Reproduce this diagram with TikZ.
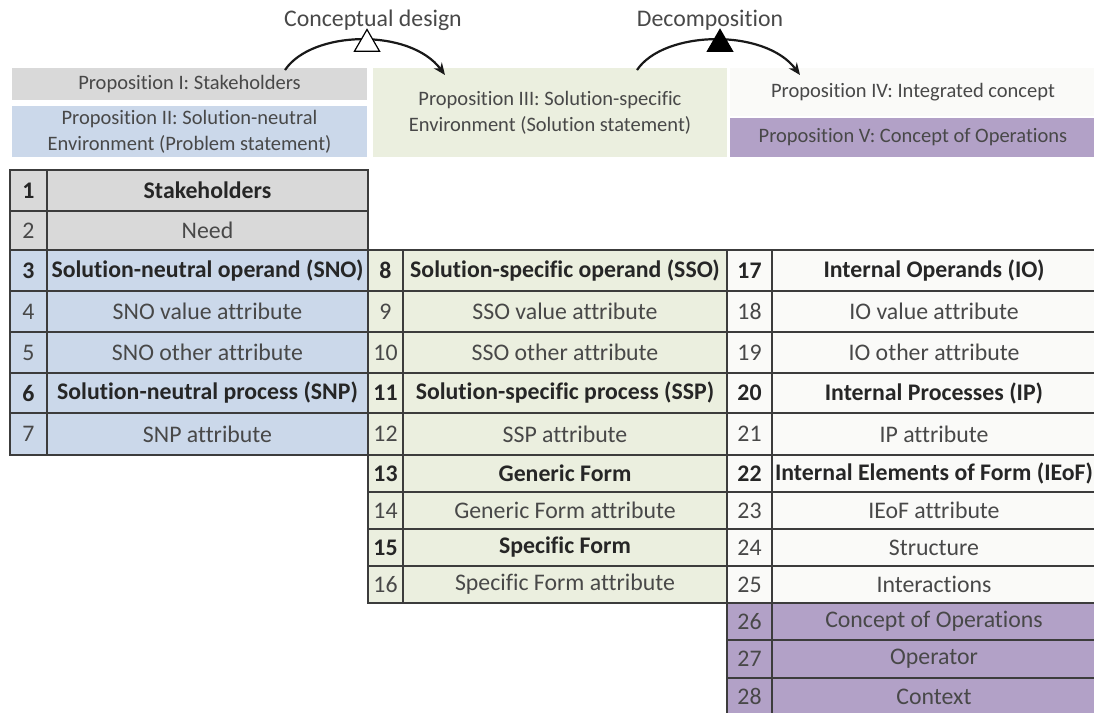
\documentclass[tikz,border=0pt]{standalone}
\usepackage{fontspec}
\setmainfont{Carlito}[Ligatures=NoCommon]
\usetikzlibrary{arrows.meta,shapes.geometric}
\definecolor{gg}{RGB}{217,217,217}
\definecolor{bb}{RGB}{203,216,234}
\definecolor{ee}{RGB}{235,239,223}
\definecolor{ww}{RGB}{250,250,248}
\definecolor{pp}{RGB}{178,161,199}
\definecolor{kk}{RGB}{60,60,60}
\definecolor{tt}{RGB}{72,72,72}
\definecolor{dd}{RGB}{38,38,38}

\begin{document}
\begin{tikzpicture}[x=0.5pt, y=-0.5pt,
every node/.style={inner sep=0pt},
cell/.style={draw=kk, line width=0.75pt, text=tt, font=\fontsize{11.9}{14}\selectfont},
strong/.style={text=dd, font=\fontsize{11.9}{14}\selectfont\bfseries},
lnum/.style={cell, minimum width=18.5pt}, ltxt/.style={cell, minimum width=160.5pt},
mnum/.style={cell, minimum width=17.5pt}, mtxt/.style={cell, minimum width=162pt},
rnum/.style={cell, minimum width=22.5pt}, rtxt/.style={cell, minimum width=162pt},
hdbox/.style={text=tt, align=center, font=\fontsize{10.25}{13}\selectfont},
ttl/.style={text=tt, font=\fontsize{11.9}{14}\selectfont},
tri/.style={regular polygon, regular polygon sides=3, draw=black, line width=0.6pt, minimum size=14.5pt},
arc/.style={line width=1.1pt, color=black!90, -{Stealth[length=6pt, width=5pt]}}]
\useasboundingbox (0,0) rectangle (1094,713);
% proposition headers
\node (p1) [hdbox, fill=gg, minimum width=177.5pt, minimum height=16pt] at (189.5,84) {Proposition I: Stakeholders};
\node (p2) [hdbox, fill=bb, minimum width=177.5pt, minimum height=25.5pt] at (189.5,131.5) {Proposition II: Solution-neutral\\Environment (Problem statement)};
\node (p3) [hdbox, fill=ee, minimum width=177pt, minimum height=44.5pt] at (550,112.5) {Proposition III: Solution-specific\\Environment (Solution statement)};
\node (p4) [hdbox, fill=ww, minimum width=183pt, minimum height=24pt] at (913,92) {Proposition IV: Integrated concept};
\node (p5) [hdbox, fill=pp, minimum width=183pt, minimum height=19.5pt] at (913,137.5) {Proposition V: Concept of Operations};
% left table
\node (n1) [lnum, strong, fill=gg, minimum height=20.5pt] at (28.5,190.5) {1};
\node (c1) [ltxt, strong, fill=gg, minimum height=20.5pt] at (207.5,190.5) {Stakeholders};
\node (n2) [lnum, fill=gg, minimum height=19.5pt] at (28.5,230.5) {2};
\node (c2) [ltxt, fill=gg, minimum height=19.5pt] at (207.5,230.5) {Need};
\node (n3) [lnum, strong, fill=bb, minimum height=20.5pt] at (28.5,270.5) {3};
\node (c3) [ltxt, strong, fill=bb, minimum height=20.5pt] at (207.5,270.5) {Solution-neutral operand (SNO)};
\node (n4) [lnum, fill=bb, minimum height=20.5pt] at (28.5,311.5) {4};
\node (c4) [ltxt, fill=bb, minimum height=20.5pt] at (207.5,311.5) {SNO value attribute};
\node (n5) [lnum, fill=bb, minimum height=20.5pt] at (28.5,352.5) {5};
\node (c5) [ltxt, fill=bb, minimum height=20.5pt] at (207.5,352.5) {SNO other attribute};
\node (n6) [lnum, strong, fill=bb, minimum height=20pt] at (28.5,393) {6};
\node (c6) [ltxt, strong, fill=bb, minimum height=20pt] at (207.5,393) {Solution-neutral process (SNP)};
\node (n7) [lnum, fill=bb, minimum height=21pt] at (28.5,434) {7};
\node (c7) [ltxt, fill=bb, minimum height=21pt] at (207.5,434) {SNP attribute};
% middle table
\node (n8) [mnum, strong, fill=ee, minimum height=20.5pt] at (385.5,270.5) {8};
\node (c8) [mtxt, strong, fill=ee, minimum height=20.5pt] at (565,270.5) {Solution-specific operand (SSO)};
\node (n9) [mnum, fill=ee, minimum height=20.5pt] at (385.5,311.5) {9};
\node (c9) [mtxt, fill=ee, minimum height=20.5pt] at (565,311.5) {SSO value attribute};
\node (n10) [mnum, fill=ee, minimum height=20.5pt] at (385.5,352.5) {10};
\node (c10) [mtxt, fill=ee, minimum height=20.5pt] at (565,352.5) {SSO other attribute};
\node (n11) [mnum, strong, fill=ee, minimum height=20pt] at (385.5,393) {11};
\node (c11) [mtxt, strong, fill=ee, minimum height=20pt] at (565,393) {Solution-specific process (SSP)};
\node (n12) [mnum, fill=ee, minimum height=21pt] at (385.5,434) {12};
\node (c12) [mtxt, fill=ee, minimum height=21pt] at (565,434) {SSP attribute};
\node (n13) [mnum, strong, fill=ee, minimum height=18.5pt] at (385.5,473.5) {13};
\node (c13) [mtxt, strong, fill=ee, minimum height=18.5pt] at (565,473.5) {Generic Form};
\node (n14) [mnum, fill=ee, minimum height=18.5pt] at (385.5,510.5) {14};
\node (c14) [mtxt, fill=ee, minimum height=18.5pt] at (565,510.5) {Generic Form attribute};
\node (n15) [mnum, strong, fill=ee, minimum height=18.5pt] at (385.5,547.5) {15};
\node (c15) [mtxt, strong, fill=ee, minimum height=18.5pt] at (565,547.5) {Specific Form};
\node (n16) [mnum, fill=ee, minimum height=18.5pt] at (385.5,584.5) {16};
\node (c16) [mtxt, fill=ee, minimum height=18.5pt] at (565,584.5) {Specific Form attribute};
% right table
\node (n17) [rnum, strong, fill=ww, minimum height=20.5pt] at (749.5,270.5) {17};
\node (c17) [rtxt, strong, fill=ww, minimum height=20.5pt] at (934,270.5) {Internal Operands (IO)};
\node (n18) [rnum, fill=ww, minimum height=20.5pt] at (749.5,311.5) {18};
\node (c18) [rtxt, fill=ww, minimum height=20.5pt] at (934,311.5) {IO value attribute};
\node (n19) [rnum, fill=ww, minimum height=20.5pt] at (749.5,352.5) {19};
\node (c19) [rtxt, fill=ww, minimum height=20.5pt] at (934,352.5) {IO other attribute};
\node (n20) [rnum, strong, fill=ww, minimum height=20pt] at (749.5,393) {20};
\node (c20) [rtxt, strong, fill=ww, minimum height=20pt] at (934,393) {Internal Processes (IP)};
\node (n21) [rnum, fill=ww, minimum height=21pt] at (749.5,434) {21};
\node (c21) [rtxt, fill=ww, minimum height=21pt] at (934,434) {IP attribute};
\node (n22) [rnum, strong, fill=ww, minimum height=18.5pt] at (749.5,473.5) {22};
\node (c22) [rtxt, strong, fill=ww, minimum height=18.5pt] at (934,473.5) {\makebox[159pt][l]{Internal Elements of Form (IEoF)}};
\node (n23) [rnum, fill=ww, minimum height=18.5pt] at (749.5,510.5) {23};
\node (c23) [rtxt, fill=ww, minimum height=18.5pt] at (934,510.5) {IEoF attribute};
\node (n24) [rnum, fill=ww, minimum height=18.5pt] at (749.5,547.5) {24};
\node (c24) [rtxt, fill=ww, minimum height=18.5pt] at (934,547.5) {Structure};
\node (n25) [rnum, fill=ww, minimum height=18.5pt] at (749.5,584.5) {25};
\node (c25) [rtxt, fill=ww, minimum height=18.5pt] at (934,584.5) {Interactions};
\node (n26) [rnum, fill=pp, minimum height=18.5pt] at (749.5,621.5) {26};
\node (c26) [rtxt, fill=pp, minimum height=18.5pt] at (934,621.5) {Concept of Operations};
\node (n27) [rnum, fill=pp, minimum height=19pt] at (749.5,659) {27};
\node (c27) [rtxt, fill=pp, minimum height=19pt] at (934,659) {Operator};
\node (n28) [rnum, fill=pp, minimum height=18.5pt] at (749.5,696.5) {28};
\node (c28) [rtxt, fill=pp, minimum height=18.5pt] at (934,696.5) {Context};
% design steps
\node (cd) [ttl] at (373,20) {Conceptual design};
\node (dc) [ttl] at (710,20) {Decomposition};
\coordinate (cd1) at (285,70);
\coordinate (cd2) at (445,75);
\coordinate (dc1) at (637,70);
\coordinate (dc2) at (800,75);
\draw [arc] (cd1) .. controls (312,30) and (410,28) .. (cd2);
\draw [arc] (dc1) .. controls (664,30) and (765,28) .. (dc2);
\node (cdt) [tri, fill=white] at (367,44) {};
\node (dct) [tri, fill=black] at (720,44) {};
\end{tikzpicture}
\end{document}
